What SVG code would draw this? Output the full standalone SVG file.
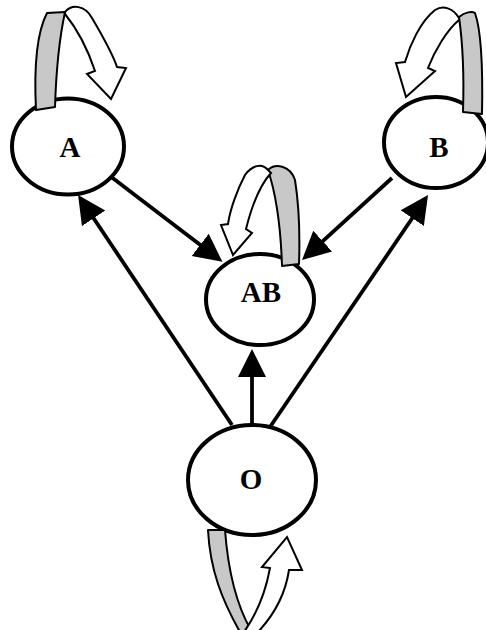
<svg xmlns="http://www.w3.org/2000/svg" width="486" height="630" viewBox="0 0 486 630">
<style>
.node ellipse{fill:#fff;stroke:#000;stroke-width:4}
.node text{font-family:"Liberation Serif","Times New Roman",serif;font-weight:bold;font-size:29px;text-anchor:middle;fill:#000}
.edge{stroke:#000;stroke-width:3.8;fill:none;marker-end:url(#tri)}
.back{fill:#c8c8c8;stroke:#000;stroke-width:2;stroke-linejoin:round}
.front{fill:#fff;stroke:#000;stroke-width:2;stroke-linejoin:miter}
</style>
<defs>
<marker id="tri" viewBox="0 -15 30 30" markerUnits="userSpaceOnUse" markerWidth="30" markerHeight="30" refX="18" refY="0" orient="auto">
<path d="M0,-14 L28,0 L0,14 Z" fill="#000"/>
</marker>
</defs>
<rect width="486" height="630" fill="#fff"/>
<g id="connectors">
<line class="edge" x1="232" y1="425" x2="83.6" y2="203.3"/>
<line class="edge" x1="110" y1="176" x2="214.5" y2="255.8"/>
<line class="edge" x1="252" y1="425" x2="252" y2="359"/>
<line class="edge" x1="270" y1="427" x2="422.4" y2="203.3"/>
<line class="edge" x1="392" y1="178" x2="309.4" y2="253.3"/>
</g>
<g id="A" class="node">
<ellipse cx="68" cy="146.5" rx="56" ry="48"/>
<text x="70" y="157">A</text>
</g>
<g id="B" class="node">
<ellipse cx="436" cy="142.5" rx="52" ry="45.5"/>
<text x="439" y="157">B</text>
</g>
<g id="AB" class="node">
<ellipse cx="260" cy="299.5" rx="54" ry="45.5"/>
<text x="261" y="302">AB</text>
</g>
<g id="O" class="node">
<ellipse cx="252" cy="480" rx="64" ry="55"/>
<text x="251" y="489">O</text>
</g>
<g id="loop-A">
<path class="back" d="M36,110 C34,70 36,34 47,13 L65,12 C59,40 56,75 55,107 Z"/>
<path class="front" d="M65,12 C72,4 85,5 92,18 C102,35 112,52 117,67 L126,68 L111,99 L87,74 L95,71 C88,50 78,30 65,14 Z"/>
</g>
<g id="loop-B">
<path class="back" d="M459,17 C465,12 472,11 475,13 C481,30 483,65 482,114 L463,112 C464,80 463,45 459,17 Z"/>
<path class="front" d="M459,18 C453,8 443,5 435,10 C420,22 410,45 405,62 L396,63 L406,97 L435,71 L428,68 C435,50 447,30 459,20 Z"/>
</g>
<g id="loop-AB">
<path class="back" d="M268,170 C275,163 290,165 295,180 C299,205 300,235 299,264 L282,266 C281,235 278,200 268,170 Z"/>
<path class="front" d="M268,170 C262,163 252,165 245,175 C237,190 230,210 228,224 L221,225 L233,255 L252,233 L246,229 C252,205 260,185 271,173 Z"/>
</g>
<g id="loop-O">
<path class="back" d="M208,530 L225,530 C228,570 236,605 252,632 L240,632 C222,600 210,570 208,530 Z"/>
<path class="front" d="M244,632 C258,612 266,590 270,568 L262,567 L287,537 L302,570 L289,570 C285,597 272,617 258,632 Z"/>
</g>
</svg>
